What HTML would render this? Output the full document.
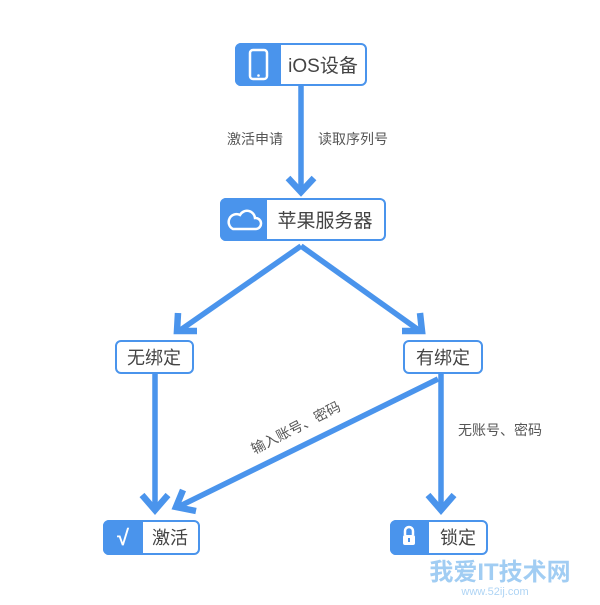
<!DOCTYPE html>
<html><head><meta charset="utf-8"><style>
body{margin:0;background:#fff;}
</style></head><body>
<svg width="600" height="600" xmlns="http://www.w3.org/2000/svg" font-family="Liberation Sans, Noto Sans CJK SC, sans-serif">
<rect width="600" height="600" fill="#fff"/>
<g stroke="#4a94ec" stroke-width="5.5" fill="none" stroke-linecap="butt">
<line x1="301" y1="86" x2="301" y2="192"/>
<line x1="301" y1="246" x2="179" y2="331"/>
<line x1="301" y1="246" x2="420" y2="331"/>
<line x1="155" y1="374" x2="155" y2="510"/>
<line x1="441" y1="374" x2="441" y2="510"/>
<line x1="438" y1="379" x2="178" y2="507"/>
</g>
<g stroke="#4a94ec" stroke-width="6.5" fill="none" stroke-linecap="butt" stroke-linejoin="miter">
<polyline points="288,178 301,192 314,178"/>
<polyline points="178,313 177,331 197,331"/>
<polyline points="420,313 422,331 402,331"/>
<polyline points="142,495 155,510 168,495"/>
<polyline points="428,495 441,510 454,495"/>
<polyline points="183,490 176,507 196,511"/>
</g>
<g stroke="#4a94ec" stroke-width="2">
<rect x="236" y="44" width="130" height="41" rx="5" fill="#fff"/>
<path d="M241 44 H280 V85 H241 A5 5 0 0 1 236 80 V49 A5 5 0 0 1 241 44Z" fill="#4a94ec"/>
<rect x="221" y="199" width="164" height="41" rx="5" fill="#fff"/>
<path d="M226 199 H266 V240 H226 A5 5 0 0 1 221 235 V204 A5 5 0 0 1 226 199Z" fill="#4a94ec"/>
<rect x="116" y="341" width="77" height="32" rx="5" fill="#fff"/>
<rect x="404" y="341" width="78" height="32" rx="5" fill="#fff"/>
<rect x="104" y="521" width="95" height="33" rx="5" fill="#fff"/>
<path d="M109 521 H142 V554 H109 A5 5 0 0 1 104 549 V526 A5 5 0 0 1 109 521Z" fill="#4a94ec"/>
<rect x="391" y="521" width="96" height="33" rx="5" fill="#fff"/>
<path d="M396 521 H428 V554 H396 A5 5 0 0 1 391 549 V526 A5 5 0 0 1 396 521Z" fill="#4a94ec"/>
</g>
<rect x="250" y="50" width="17" height="29" rx="3" fill="none" stroke="#fff" stroke-width="2.5"/>
<circle cx="258.5" cy="75.5" r="1.3" fill="#fff"/>
<path d="M233 229 H256 A5.5 5.5 0 0 0 255 218 A8 8 0 0 0 240 215 A6 6 0 0 0 233 229Z" fill="none" stroke="#fff" stroke-width="2.5"/>
<text x="123" y="545" font-size="22" font-weight="bold" fill="#fff" text-anchor="middle">√</text>
<rect x="403" y="535" width="12" height="10" rx="2" fill="#fff"/>
<path d="M405 535 V531 A4 4 0 0 1 413 531 V535" fill="none" stroke="#fff" stroke-width="2.5"/>
<rect x="408" y="538" width="2" height="4" fill="#4a94ec"/>
<g fill="#444">
<text x="323" y="72" font-size="19" text-anchor="middle">iOS设备</text>
<text x="325" y="227" font-size="19" text-anchor="middle">苹果服务器</text>
<text x="154" y="364" font-size="18" text-anchor="middle">无绑定</text>
<text x="443" y="364" font-size="18" text-anchor="middle">有绑定</text>
<text x="170" y="544" font-size="18" text-anchor="middle">激活</text>
<text x="458" y="544" font-size="18" text-anchor="middle">锁定</text>
</g>
<g fill="#555" font-size="14">
<text x="255" y="144" text-anchor="middle">激活申请</text>
<text x="353" y="144" text-anchor="middle">读取序列号</text>
<text x="500" y="435" text-anchor="middle">无账号、密码</text>
<text x="0" y="0" text-anchor="middle" transform="translate(298,432) rotate(-27)">输入账号、密码</text>
</g>
<text x="500" y="580" font-size="24" font-weight="bold" fill="#7ab8ee" opacity="0.7" text-anchor="middle">我爱IT技术网</text>
<text x="495" y="595" font-size="11" fill="#7ab8ee" opacity="0.6" text-anchor="middle">www.52ij.com</text>
</svg>
</body></html>
